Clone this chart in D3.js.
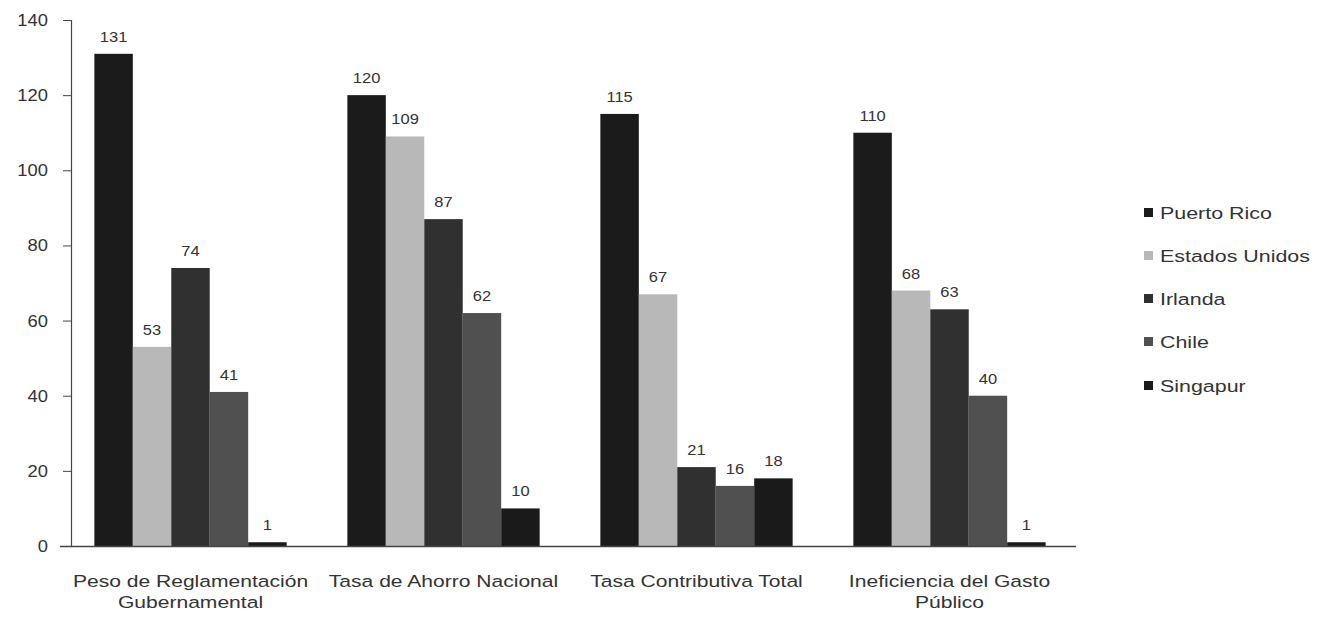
<!DOCTYPE html>
<html><head><meta charset="utf-8">
<script src="https://cdn.jsdelivr.net/npm/d3@7"></script>
<style>body{margin:0;background:#fff}svg{display:block}text{font-family:"Liberation Sans",Arial,sans-serif;fill:#333}</style>
</head><body>
<script>
const categories = [["Peso de Reglamentación","Gubernamental"],["Tasa de Ahorro Nacional"],["Tasa Contributiva Total"],["Ineficiencia del Gasto","Público"]];
const seriesNames = ["Puerto Rico","Estados Unidos","Irlanda","Chile","Singapur"];
const puertoRico = [131,120,115,110];
const estadosUnidos = [53,109,67,68];
const irlanda = [74,87,21,63];
const chile = [41,62,16,40];
const singapur = [1,10,18,1];
const yTicks = [0,20,40,60,80,100,120,140];
const colors = ["#1b1b1b","#b8b8b8","#303030","#505050","#1a1a1a"];
const series = [puertoRico,estadosUnidos,irlanda,chile,singapur];

const W=1326,H=617;
const svg=d3.select("body").append("svg").attr("width",W).attr("height",H);
const x0=d3.scaleBand().domain(d3.range(categories.length)).range([64,1076]).paddingInner(0.24).paddingOuter(0.12);
const x1=d3.scaleBand().domain(d3.range(seriesNames.length)).range([0,x0.bandwidth()]);
const y=d3.scaleLinear().domain([0,140]).range([546,20]);

function stext(parent,x,yy,str,size,sx,anchor){
  return parent.append("text").attr("transform",`translate(${x},${yy}) scale(${sx},1)`)
    .attr("text-anchor",anchor||"middle").style("font-size",size+"px").text(str);
}

// y axis
const yAxis=svg.append("g").attr("transform","translate(71,0)").call(d3.axisLeft(y).tickValues(yTicks).tickSize(8).tickFormat(""));
yAxis.select(".domain").attr("stroke","#444").attr("stroke-width",1.2);
yAxis.selectAll(".tick line").attr("stroke","#444");
yTicks.forEach(v=>stext(svg,48,y(v)+6,v,17,1.08,"end"));

// bars
const groups=svg.append("g").selectAll("g").data(categories).join("g").attr("transform",(d,i)=>`translate(${x0(i)},0)`);
groups.each(function(c,ci){
  const g=d3.select(this);
  series.forEach((s,si)=>{
    g.append("rect").attr("x",x1(si)).attr("width",x1.bandwidth()).attr("y",y(s[ci])).attr("height",y(0)-y(s[ci])).attr("fill",colors[si]);
    stext(g,x1(si)+x1.bandwidth()/2,y(s[ci])-12,s[ci],15,1.1);
  });
});

// x axis baseline
svg.append("line").attr("x1",60).attr("x2",1076).attr("y1",y(0)+0.5).attr("y2",y(0)+0.5).attr("stroke","#444").attr("stroke-width",1.3);

// category labels
categories.forEach((c,ci)=>{
  c.forEach((line,li)=>stext(svg,x0(ci)+x0.bandwidth()/2,587+li*21,line,17,1.24));
});

// legend
const legY=[213,256,299,342,386];
seriesNames.forEach((n,i)=>{
  svg.append("rect").attr("x",1144).attr("y",legY[i]-5).attr("width",9).attr("height",9).attr("fill",colors[i]);
  stext(svg,1160,legY[i]+6,n,17,1.26,"start");
});
</script>
</body></html>
